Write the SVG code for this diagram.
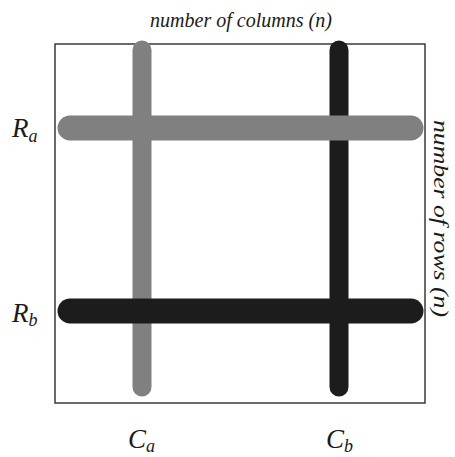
<svg xmlns="http://www.w3.org/2000/svg" width="455" height="457" viewBox="0 0 455 457">
<style>
.lbl{font-family:"Liberation Serif","Times New Roman",serif;font-style:italic;fill:#1a1a1a}
.big{font-size:27px}
.sub{font-size:18px}
.ttl{font-size:21px}
.vt{font-size:20px}
.gray{stroke:#808080;stroke-linecap:round;fill:none}
.blk{stroke:#1c1c1c;stroke-linecap:round;fill:none}
.col{stroke-width:19}
.row{stroke-width:25}
</style>
<rect width="455" height="457" fill="#ffffff"/>
<g id="frame">
<rect x="55" y="44" width="370" height="359" fill="none" stroke="#3a3a3a" stroke-width="1.5"/>
</g>
<g id="connectors">
<line id="Ca-line" class="gray col" x1="142" y1="50" x2="142" y2="387"/>
<line id="Cb-line" class="blk col" x1="339" y1="50" x2="339" y2="387"/>
<line id="Ra-line" class="gray row" x1="70" y1="128" x2="411" y2="128"/>
<line id="Rb-line" class="blk row" x1="70" y1="311" x2="411" y2="311"/>
</g>
<g id="Ra"><text class="lbl big" x="12" y="137">R<tspan class="sub" dy="5">a</tspan></text></g>
<g id="Rb"><text class="lbl big" x="12" y="322">R<tspan class="sub" dy="4">b</tspan></text></g>
<g id="Ca"><text class="lbl big" x="128" y="448">C<tspan class="sub" dy="4">a</tspan></text></g>
<g id="Cb"><text class="lbl big" x="326" y="448">C<tspan class="sub" dy="4">b</tspan></text></g>
<g id="title"><text class="lbl ttl" x="150" y="27" textLength="182" lengthAdjust="spacingAndGlyphs">number of columns (n)</text></g>
<g id="rowtitle"><text class="lbl vt" transform="translate(434,120) rotate(90)" x="0" y="0" textLength="197" lengthAdjust="spacingAndGlyphs">number of rows (n)</text></g>
</svg>
